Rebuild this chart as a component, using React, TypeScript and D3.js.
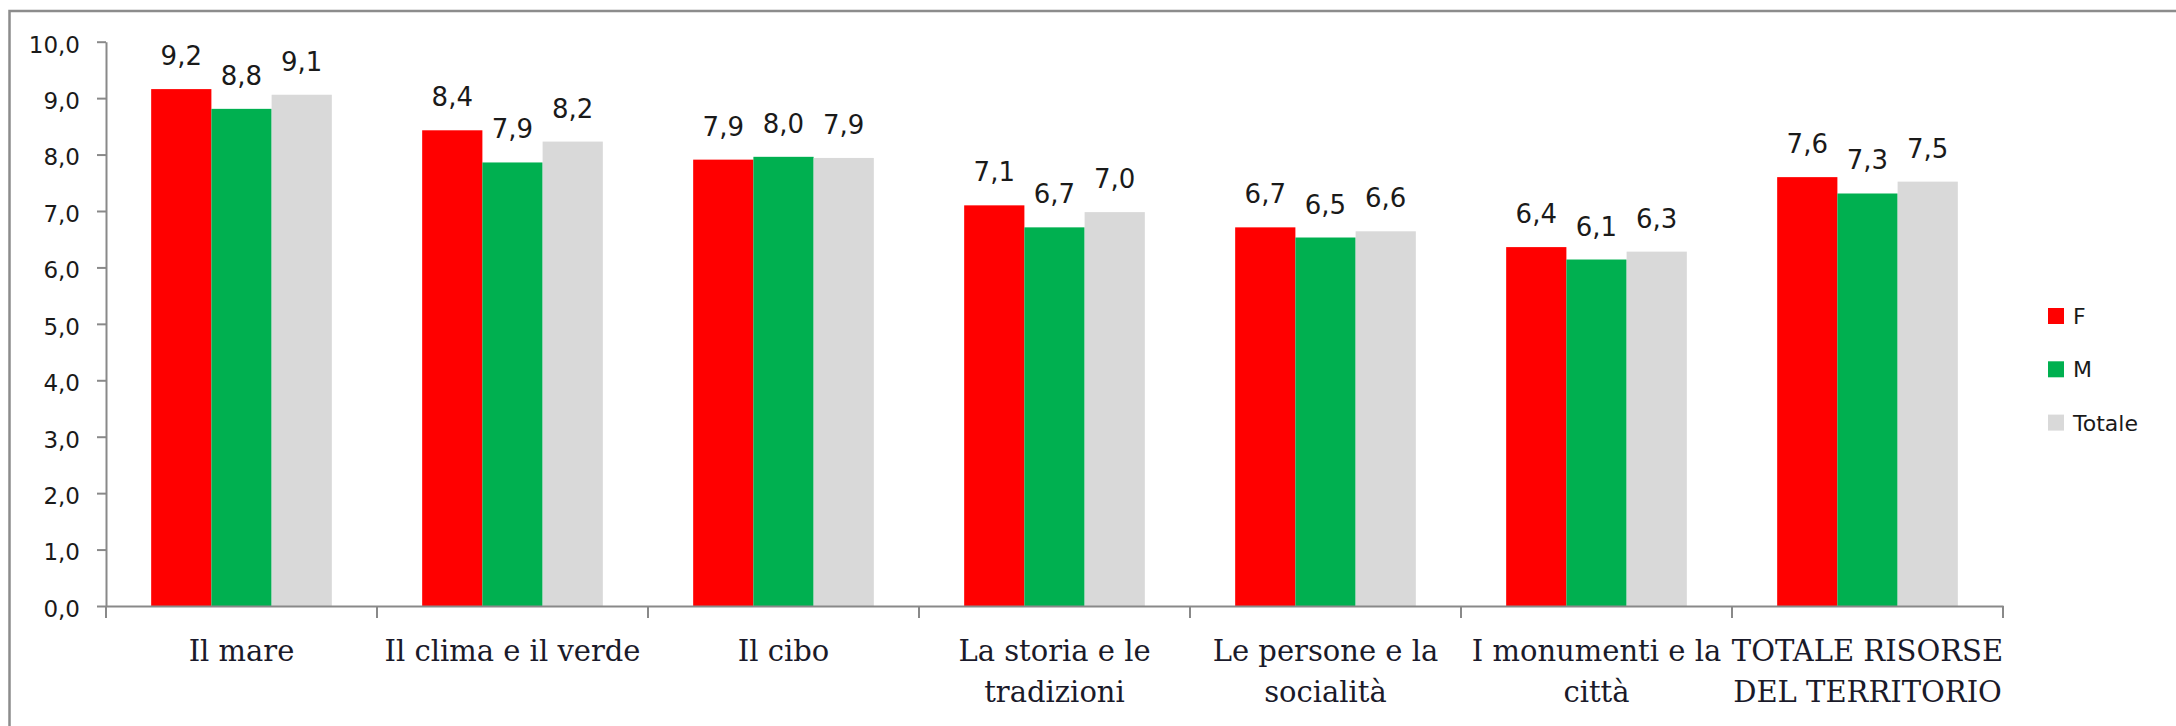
import { useEffect, useRef } from 'react';
import * as d3 from 'd3';

// categories (explicit line breaks as in the original chart)
const categories = [
  'Il mare',
  'Il clima e il verde',
  'Il cibo',
  'La storia e le\ntradizioni',
  'Le persone e la\nsocialità',
  'I monumenti e la\ncittà',
  'TOTALE RISORSE\nDEL TERRITORIO',
];

const seriesNames = ['F', 'M', 'Totale'];
const valuesF = [9.16, 8.43, 7.91, 7.1, 6.71, 6.36, 7.6];
const valuesM = [8.81, 7.86, 7.96, 6.71, 6.53, 6.14, 7.31];
const valuesTotale = [9.06, 8.23, 7.94, 6.98, 6.64, 6.28, 7.52];
const yTicks = [0, 1, 2, 3, 4, 5, 6, 7, 8, 9, 10];

const colors = ['#FF0000', '#00B050', '#D9D9D9'];

export default function App() {
  const ref = useRef<SVGSVGElement | null>(null);

  useEffect(() => {
    const svg = d3.select(ref.current);
    svg.selectAll('*').remove();

    const W = 2176;
    const H = 726;
    const seriesValues = [valuesF, valuesM, valuesTotale];

    svg.append('rect').attr('width', W).attr('height', H).attr('fill', '#fff');

    // chart frame (only top and left edges are in view)
    svg.append('path')
      .attr('d', `M9.5,${H} V11 H${W}`)
      .attr('fill', 'none')
      .attr('stroke', '#8c8c8c')
      .attr('stroke-width', 2.5);

    const x = d3.scaleBand<string>()
      .domain(categories)
      .range([106, 2003])
      .paddingInner(0)
      .paddingOuter(0);

    const xs = d3.scaleBand<string>()
      .domain(seriesNames)
      .range([0, x.bandwidth()])
      .paddingInner(0)
      .paddingOuter(0.75);

    const y = d3.scaleLinear().domain([0, 10]).range([606, 41.7]);

    const fmt = (v: number) => d3.format('.1f')(v).replace('.', ',');

    // y axis
    const yAxis = svg.append('g')
      .attr('transform', `translate(${x.range()[0]},0)`)
      .call(d3.axisLeft(y).tickValues(yTicks).tickSize(9).tickSizeOuter(0).tickPadding(17).tickFormat(d => fmt(+d)));
    yAxis.select('.domain').attr('stroke', '#898989').attr('stroke-width', 2);
    yAxis.selectAll('.tick line').attr('stroke', '#898989').attr('stroke-width', 2);
    yAxis.selectAll('.tick text')
      .attr('font-family', '"DejaVu Sans", sans-serif')
      .attr('font-size', 23)
      .attr('fill', '#1a1a1a')
      .attr('dy', '0.45em');

    // bars
    const groups = svg.append('g')
      .selectAll('g')
      .data(categories)
      .enter().append('g')
      .attr('transform', d => `translate(${x(d)},0)`);

    groups.selectAll('rect')
      .data((_, i) => seriesNames.map((s, k) => ({ s, k, v: seriesValues[k][i] })))
      .enter().append('rect')
      .attr('x', d => xs(d.s)!)
      .attr('y', d => y(d.v))
      .attr('width', xs.bandwidth())
      .attr('height', d => y(0) - y(d.v))
      .attr('fill', d => colors[d.k]);

    groups.selectAll('text')
      .data((_, i) => seriesNames.map((s, k) => ({ s, k, v: seriesValues[k][i] })))
      .enter().append('text')
      .attr('x', d => xs(d.s)! + xs.bandwidth() / 2)
      .attr('y', d => y(d.v) - 24)
      .attr('text-anchor', 'middle')
      .attr('font-family', '"DejaVu Sans", sans-serif')
      .attr('font-size', 26)
      .attr('fill', '#1a1a1a')
      .text(d => fmt(d.v));

    // x axis: line plus ticks on category boundaries
    const xAxis = svg.append('g')
      .attr('transform', `translate(0,${y(0)})`)
      .call(d3.axisBottom(x).tickSize(0).tickSizeOuter(0).tickFormat(() => ''));
    xAxis.select('.domain').attr('stroke', '#898989').attr('stroke-width', 2);
    xAxis.selectAll('.tick').remove();

    const bounds = [...categories.map(c => x(c)!), x.range()[1]];
    xAxis.selectAll('line.bound')
      .data(bounds)
      .enter().append('line')
      .attr('class', 'bound')
      .attr('x1', d => d).attr('x2', d => d)
      .attr('y1', 0).attr('y2', 12)
      .attr('stroke', '#898989')
      .attr('stroke-width', 2);

    const labels = xAxis.selectAll('text.cat')
      .data(categories)
      .enter().append('text')
      .attr('class', 'cat')
      .attr('text-anchor', 'middle')
      .attr('font-family', '"DejaVu Serif", serif')
      .attr('font-size', 29)
      .attr('fill', '#1a1a2a')
      .attr('transform', d => `translate(${x(d)! + x.bandwidth() / 2},55)`);

    labels.selectAll('tspan')
      .data(d => d.split('\n'))
      .enter().append('tspan')
      .attr('x', 0)
      .attr('y', (_, i) => i * 41)
      .text(d => d);

    // legend
    const legend = svg.append('g')
      .attr('transform', 'translate(2048,308)')
      .selectAll('g')
      .data(seriesNames)
      .enter().append('g')
      .attr('transform', (_, i) => `translate(0,${i * 53.3})`);

    legend.append('rect')
      .attr('width', 16)
      .attr('height', 16)
      .attr('fill', (_, i) => colors[i]);

    legend.append('text')
      .attr('x', 25)
      .attr('y', 16)
      .attr('font-family', '"DejaVu Sans", sans-serif')
      .attr('font-size', 22)
      .attr('fill', '#1a1a1a')
      .text(d => d);
  }, []);

  return (
    <svg
      ref={ref}
      width={2176}
      height={726}
      style={{ position: 'absolute', left: 0, top: 0, display: 'block' }}
    />
  );
}
